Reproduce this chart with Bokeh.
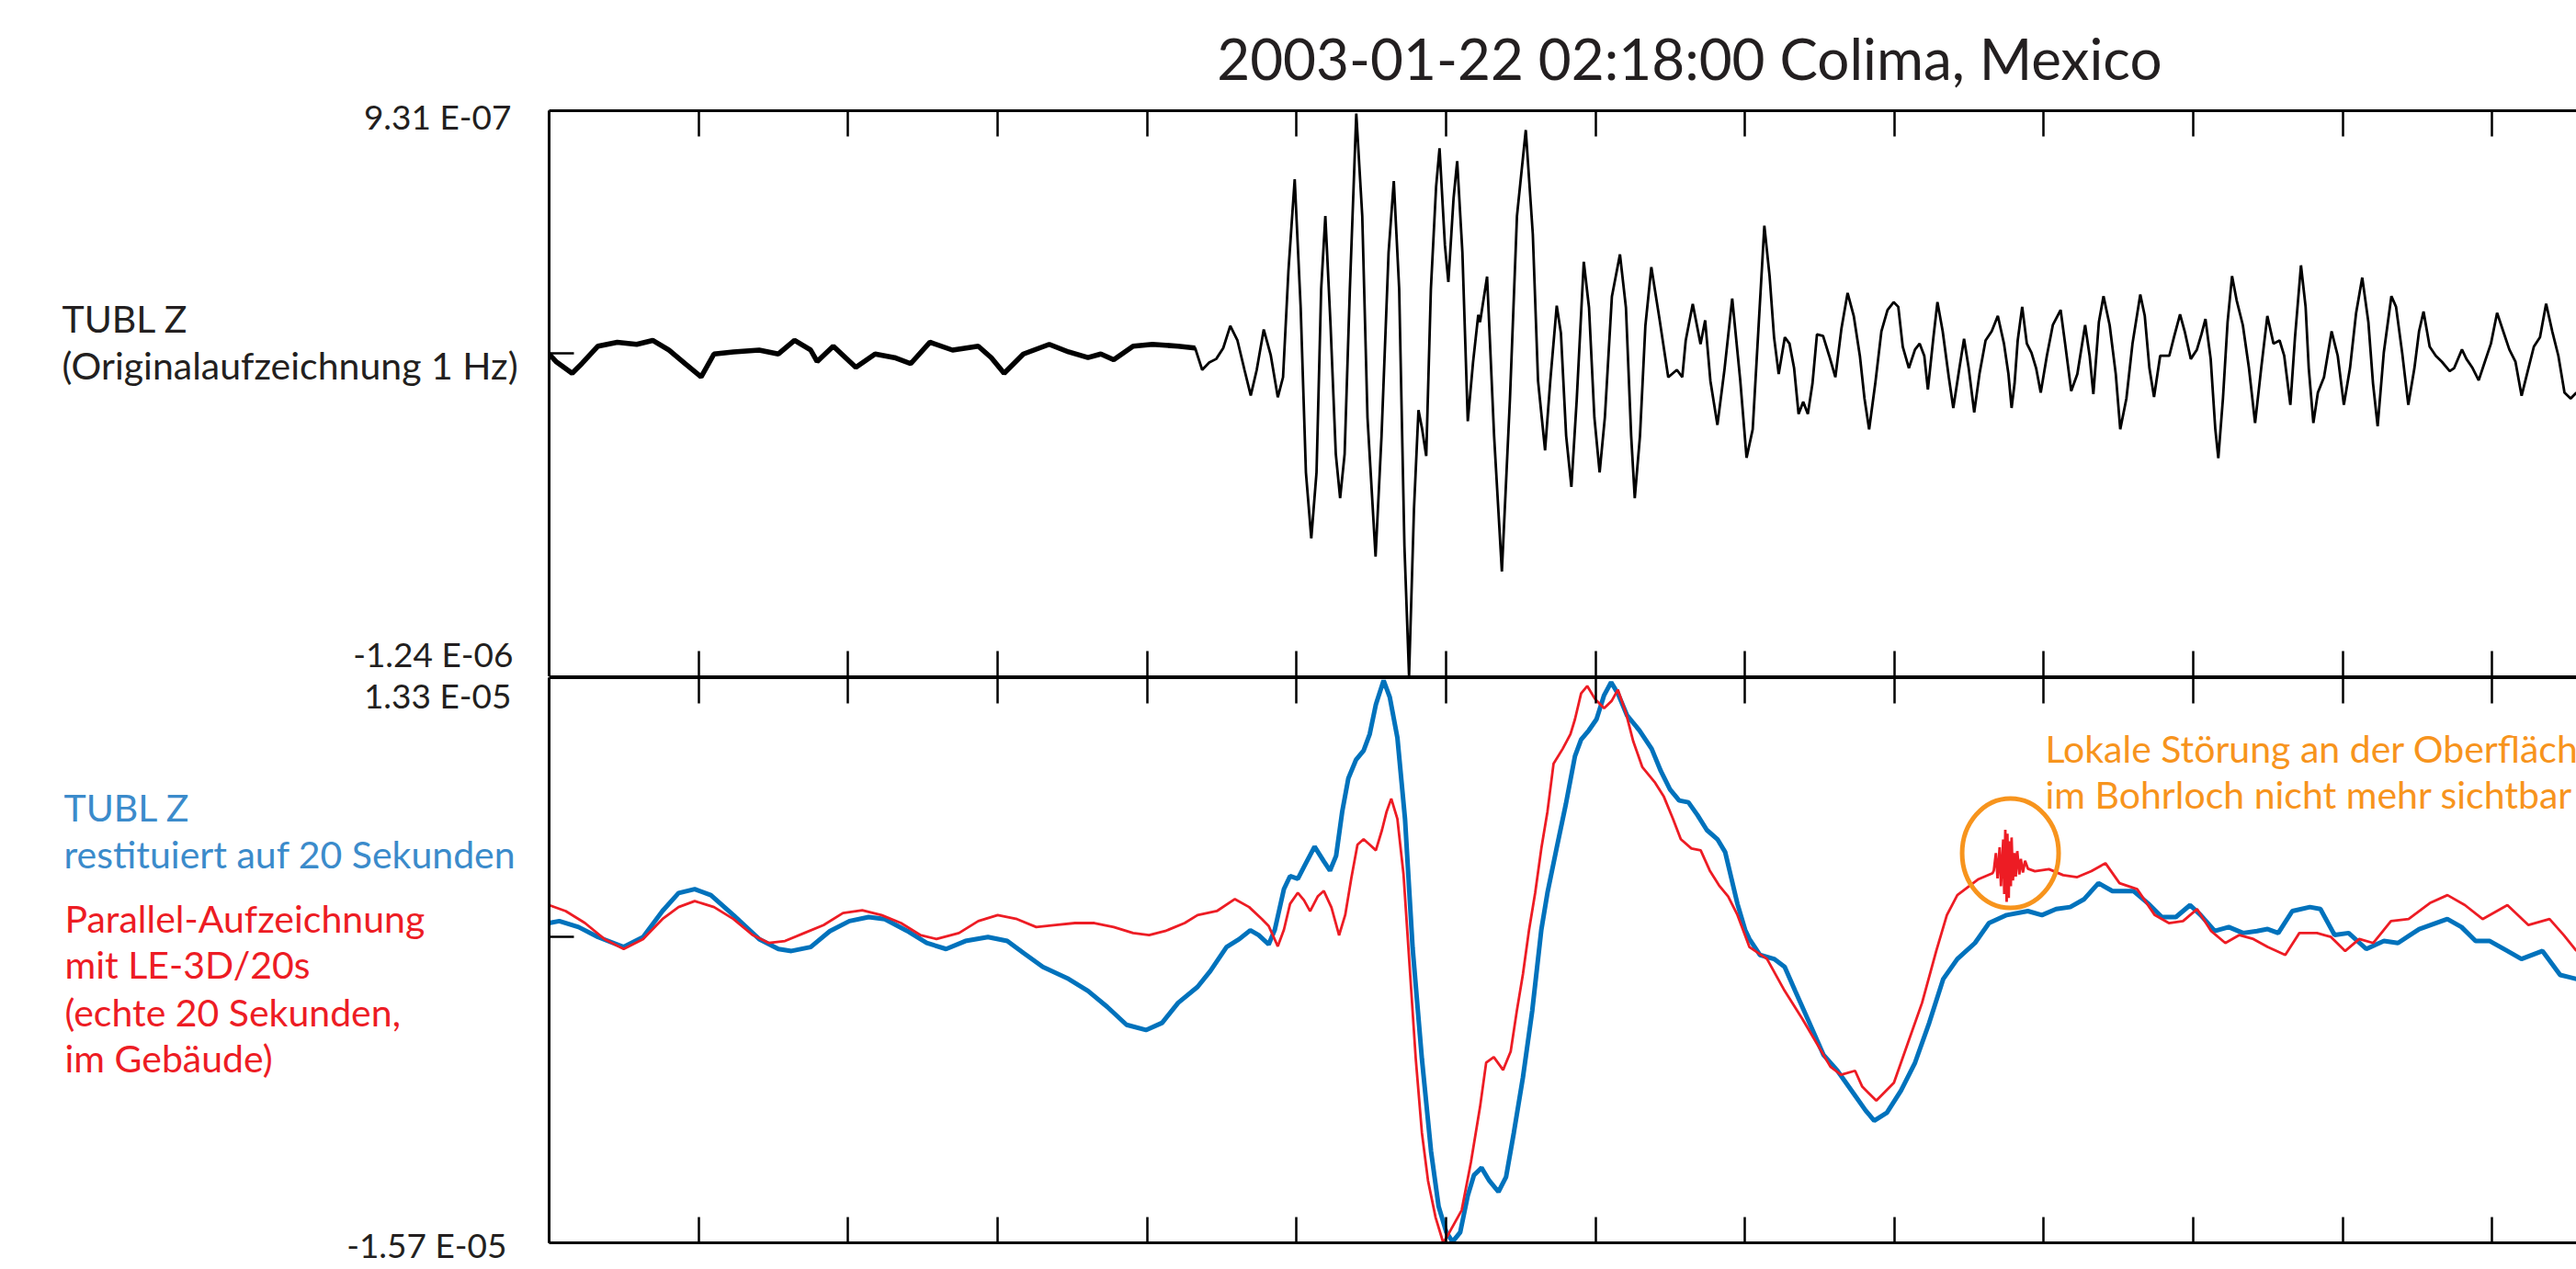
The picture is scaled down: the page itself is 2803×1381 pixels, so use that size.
from bokeh.plotting import figure
from bokeh.models import Range1d, LinearAxis, SingleIntervalTicker, FixedTicker, Label, ColumnDataSource
from bokeh.layouts import column, row
from bokeh.embed import file_html
from bokeh.resources import INLINE
from bokeh.core.properties import value

# ---------------- data (time in s, velocity in nm/s) ----------------
# TUBL Z original 1 Hz recording (upper panel)
black_t = [0.0, 4.6, 15.4, 21.9, 32.7, 45.6, 58.6, 69.3, 80.1, 90.9, 101.7, 110.3, 123.3, 140.5, 153.4,
           164.2, 175.0, 179.3, 190.1, 205.2, 218.1, 231.1, 241.9, 254.8, 269.9, 287.1, 295.8, 304.4,
           317.3, 334.6, 347.5, 360.5, 369.1, 377.7, 390.7, 403.6, 420.8,
           432.2, 436.9, 441.6, 446.3, 451.0, 455.7, 460.5, 465.2, 469.4, 473.4, 478.1, 482.8, 487.5,
           491.0, 494.6, 498.8, 502.8, 506.3, 509.9, 513.4, 516.5, 519.3, 522.8, 526.3, 529.2, 532.2,
           535.7, 540.0, 544.0, 547.5, 552.9, 556.9, 561.6, 565.1, 568.7, 572.2, 575.3, 578.6, 581.6,
           584.0, 586.8, 589.9, 593.4, 595.7, 599.3, 601.6, 605.1, 607.5, 611.0, 614.6, 618.1, 621.6,
           622.8, 627.5, 632.2, 637.4, 642.8, 647.5, 653.4, 658.1, 661.6, 666.3, 669.8, 674.1, 676.9,
           680.4, 683.9, 687.5, 692.2, 695.7, 699.3, 702.8, 706.3, 711.0, 716.4, 720.4, 723.9, 726.3,
           729.8, 733.4, 737.4, 742.8, 748.7, 754.5, 758.1, 760.4, 765.1, 770.3, 773.4, 776.9, 781.6,
           786.3, 791.5, 796.9, 801.1,
           805.2, 809.3, 813.0, 816.5, 819.5, 822.6, 826.7, 829.8, 832.9, 835.9, 839.0, 842.1, 845.2,
           848.2, 852.3, 856.4, 860.5, 864.6, 868.7, 872.8, 876.9, 880.0, 883.1, 887.2, 891.3, 895.4,
           899.5, 902.6, 905.6, 909.7, 913.8, 916.9, 920.0, 922.4, 926.1, 928.8, 932.3, 936.4, 939.4,
           943.5, 946.6, 949.7, 953.4, 956.9, 961.0, 965.1, 969.2, 973.3, 976.3, 978.4, 980.4, 982.5,
           985.5, 988.6, 991.7, 994.8, 997.9, 1002.0, 1006.0, 1011.2, 1014.2, 1018.3, 1022.4, 1027.6,
           1030.6, 1033.1, 1036.8, 1039.9, 1044.0, 1048.1, 1051.1, 1055.2, 1059.3, 1064.5, 1067.5,
           1070.6, 1073.7, 1077.8,
           1083.9, 1087.0, 1091.1, 1094.2, 1098.3, 1102.4, 1105.4, 1108.1, 1111.6, 1114.7, 1116.7,
           1119.8, 1122.9, 1125.9, 1129.0, 1133.1, 1137.2, 1141.3, 1145.4, 1149.5, 1153.6, 1157.7,
           1160.8, 1164.9, 1168.0, 1172.0, 1175.1, 1177.2, 1180.3, 1183.3, 1187.4, 1192.5, 1196.6,
           1200.7, 1204.8, 1208.9, 1213.0, 1217.1, 1220.2, 1223.3, 1227.4, 1232.5, 1235.6, 1239.7,
           1243.8, 1247.9, 1251.0, 1254.0, 1258.1, 1262.2, 1266.3, 1271.5, 1274.5, 1279.7, 1282.7,
           1286.8, 1290.9, 1295.0, 1299.1, 1303.2, 1307.3, 1311.4, 1315.5, 1319.6, 1323.7, 1327.8,
           1331.9, 1336.0, 1340.1, 1344.2, 1348.3, 1352.4, 1356.3]
black_v = [-2, -31, -76, -39, 28, 43, 35, 50, 13, -39, -90, -2, 6, 13, -2,
           50, 13, -31, 28, -53, -2, -16, -39, 43, 13, 28, -16, -76,
           -2, 35, 6, -16, -2, -24, 28, 35, 28,
           21, -63, -35, -21, 21, 106, 50, -63, -161, -63, 92, -7, -168,
           -91, 316, 668, 176, -456, -709, -456, 246, 527, 106, -386, -555, -386,
           246, 920, 527, -246, -779, -316, 387, 661, 246, -737, -1236, -597, -217,
           -288, -393, 246, 640, 787, 415, 274, 597, 738, 387, -260, -35, 148,
           120, 295, -316, -836, -175, 527, 857, 457, -105, -372, -105, 183, 78,
           -316, -512, -175, 352, 176, -246, -456, -246, 218, 380, 176, -316, -555,
           -316, 106, 331, 134, -91, -63, -91, 50, 190, 36, 127, -105, -274,
           -63, 211, -105, -400,
           -291, 120, 490, 297, 62, -79, 62, 38, -56, -232, -185, -232, -115,
           73, 67, -9, -91, 97, 232, 144, -9, -173, -291, -115, 85, 167,
           197, 179, 26, -56, 15, 38, -9, -138, 62, 197, 85, -91, -209,
           -56, 56, -56, -226, -79, 50, 85, 144, 38, -79, -209, -115, 50,
           179, 38, 3, -56, -150, -9, 109, 167, 38, -144, -79, 109,
           -9, -156, 120, 220, 109, -79, -291, -173, 38, 226, 144,
           -56, -167, -9,
           -9, 62, 150, 85, -21, 15, 73, 132, -21, -291, -402,
           -173, 120, 297, 203, 109, -56, -267, -56, 144, 38, 50,
           -9, -197, 62, 338, 179, -56, -267, -150, -91, 85, -9,
           -197, -56, 156, 291, 120, -115, -279, 3, 220, 179, 3,
           -197, -56, 85, 161, 26, -9, -32, -68, -56, 15, -21,
           -56, -103, -32, 38, 156, 85, 15, -32, -162, -68, 26,
           62, 191, 85, -9, -150, -173, -150]
black_pre_n = 37  # samples before the wave onset (noisy section)

# TUBL Z restituted to 20 s (lower panel, blue)
blue_t = [0.0, 6.8, 19.7, 32.7, 49.9, 62.9, 75.8, 86.6, 97.4, 108.2, 123.3, 140.5, 153.4, 162.1, 175.0,
          187.9, 200.9, 213.8, 224.6, 239.7, 252.6, 265.6, 278.5, 293.6, 306.5, 317.3, 330.3, 347.5,
          360.5, 373.4, 386.3, 399.3, 410.1, 420.8, 433.8, 442.4, 453.2, 461.8, 469.1, 474.7,
          481.4, 485.5, 491.6, 495.7, 500.9, 505.0, 512.1, 518.3, 522.4, 526.5, 530.6, 534.7, 539.8,
          544.9, 549.0, 553.1, 558.3, 562.4, 567.5, 572.6, 577.7, 583.9, 590.0, 595.1, 600.3, 604.4,
          609.5, 614.6, 618.7, 623.8, 629.0, 635.1, 640.2, 645.4, 651.5, 657.7, 663.8, 667.9, 674.0,
          680.2, 686.3, 690.4, 695.6, 700.7, 705.8, 710.5, 715.0, 721.2, 729.4, 737.6, 743.7, 749.9,
          756.0, 762.2, 768.3, 774.5, 781.6, 786.8, 790.9, 795.0, 800.1,
          803.0, 810.1, 819.5, 826.6, 833.6, 843.1, 852.5, 861.9, 871.4, 880.8, 886.5, 895.0, 904.4,
          913.8, 923.3, 932.7, 942.1, 953.9, 963.3, 975.1, 989.3, 998.7, 1008.2, 1017.6, 1027.0,
          1036.5, 1045.9, 1060.1, 1069.5, 1078.9, 1088.3, 1097.8, 1104.9, 1114.3, 1123.7, 1133.2,
          1142.6, 1149.7, 1156.8, 1166.2, 1178.0, 1185.0, 1194.5, 1203.9, 1215.7, 1227.5, 1236.9,
          1251.1, 1269.9, 1279.4, 1288.8, 1298.3, 1310.1, 1319.5, 1333.6, 1345.4, 1356.3]
blue_v = [709, 811, 504, -8, -520, -8, 1323, 2245, 2450, 2142, 1118, -111, -623, -725, -520,
          299, 811, 1016, 914, 299, -315, -623, -213, -8, -213, -827, -1544, -2159,
          -2773, -3592, -4514, -4780, -4411, -3387, -2568, -1749, -520, -111, 340, 94,
          -389, 369, 2453, 3116, 2983, 3589, 4631, 3873, 3400, 4158, 6431, 8136, 9083,
          9557, 10409, 11925, 13157, 12304, 10220, 6052, -579, -6262, -10998, -13840, -15166, -15650,
          -15166, -13272, -12230, -11851, -12514, -13082, -12325, -10051, -7209, -3799, 369, 2263, 4537,
          6810, 9273, 10125, 10599, 11167, 12399, 13062, 12493, 11357, 10599, 9652, 8515, 7568,
          6999, 6905, 6242, 5484, 5010, 4347, 3021, 1695, 369,
          -111, -930, -1135, -1544, -2773, -4411, -6050, -6869, -7893, -8917, -9429, -9019, -7893,
          -6459, -4411, -2159, -1135, -315, 709, 1118, 1323, 1118, 1426, 1528, 1938,
          2757, 2347, 2347, 1733, 1016, 1016, 1630, 1118, 299, 504, 197,
          299, 401, 197, 1323, 1528, 1426, 94, 197, -623, -213, -315,
          401, 914, 504, -213, -213, -725, -1135, -725, -1954, -2159]

# Parallel recording LE-3D/20s (lower panel, red)
red_t = [0.0, 11.1, 24.0, 37.0, 49.9, 62.9, 75.8, 86.6, 97.4, 110.3, 123.3, 136.2, 147.0, 157.8, 170.7,
         183.6, 196.6, 209.5, 222.4, 235.4, 248.3, 259.1, 274.2, 287.1, 300.1, 313.0, 325.9, 338.9,
         351.8, 364.8, 377.7, 390.7, 401.4, 412.2, 425.2, 433.8, 446.7, 458.8, 468.3, 476.9,
         481.4, 487.5, 491.6, 495.7, 500.9, 505.0, 509.1, 514.2, 518.3, 523.4, 528.5, 532.6, 536.7,
         540.8, 544.9, 549.0, 553.1, 557.2, 560.3, 563.4, 567.5, 571.6, 575.7, 579.8, 583.9, 588.0,
         593.1, 598.2, 602.3, 606.4, 610.5, 616.7, 622.8, 626.9, 632.0, 638.2, 643.3, 647.4, 651.5,
         655.6, 659.7, 663.8, 667.9, 672.0, 678.1, 683.3, 686.3, 690.4, 694.5, 699.7, 705.8, 710.9,
         715.0, 720.2, 725.3, 731.4, 739.6, 745.8, 751.9, 757.1, 764.2, 770.4, 776.5, 782.7, 788.8,
         795.0,
         803.0, 814.8, 826.6, 838.4, 847.8, 857.2, 864.3, 873.7, 878.5, 887.9, 899.7, 909.1, 918.5,
         928.0, 935.1, 942.1, 949.2, 956.3, 965.7, 966.5, 967.9, 969.0, 970.4, 971.3, 972.8, 973.5,
         974.2, 975.1, 975.6, 976.5, 977.0, 977.9, 978.4, 979.3, 980.3, 981.2, 982.2, 983.6, 984.6,
         986.0, 987.4, 989.3, 994.0, 1003.4, 1012.9, 1022.3, 1031.8, 1041.2, 1050.6, 1062.4, 1074.2,
         1083.6, 1093.1, 1102.5, 1111.9, 1121.4, 1130.8, 1140.2, 1149.7, 1161.5, 1170.9, 1182.7,
         1192.1, 1201.6, 1211.0, 1220.4, 1232.2, 1244.0, 1258.2, 1270.0, 1281.7, 1293.5, 1310.1,
         1324.2, 1338.3, 1347.8, 1356.3]
red_v = [1630, 1323, 709, -111, -623, -111, 914, 1528, 1835, 1528, 914, 94, -315, -213, 197,
         606, 1221, 1364, 1118, 709, 94, -111, 197, 811, 1118, 914, 504, 606,
         709, 709, 504, 197, 94, 299, 709, 1118, 1323, 1938, 1528, 914,
         558, -484, 369, 1695, 2263, 1884, 1316, 2074, 2358, 1505, 84, 1126, 3021,
         4726, 5010, 4726, 4442, 5484, 6431, 7094, 6052, 3210, -1526, -6262, -10051, -12514,
         -14409, -15700, -15166, -14598, -14030, -11567, -8725, -6452, -6167, -6831, -5883, -3799, -1905,
         369, 2263, 4537, 6431, 8894, 9652, 10409, 11167, 12493, 12872, 12209, 11736, 12115,
         12683, 11546, 10031, 8704, 7947, 7189, 6052, 5010, 4537, 4442, 3400, 2642, 2074,
         1126,
         -520, -1135, -2773, -4207, -5435, -6664, -7074, -6869, -7688, -8405, -7483, -5435, -3387,
         -725, 1118, 2142, 2552, 2962, 3269, 3400, 4300, 3000, 4600, 2600, 5000, 2200,
         5500, 1800, 5300, 2000, 4900, 2600, 5100, 2900, 4300, 3100, 4400, 3200, 4000,
         3300, 3900, 3500, 3371, 3474, 3166, 3064, 3371, 3781, 2757, 2450, 1118,
         709, 811, 1426, 299, -315, 94, -111, -520, -930, 197, 197,
         -8, -725, -111, -315, 811, 914, 1733, 2142, 1630, 914, 1630,
         606, 914, 94, -725]

# axis end values (nm/s) and their printed labels
upper_max, upper_min = 931, -1240
lower_max, lower_min = 13300, -15700
upper_labels = ["9.31 E-07", "-1.24 E-06"]
lower_labels = ["1.33 E-05", "-1.57 E-05"]
t_end = 1356.3
tick_interval = 100

# annotation: local disturbance (time, value)
dist_t, dist_v = 977.6, 4294

FONT = "Lato"
BLACK = "#231F20"
BLUE_LINE = "#0072BC"
BLUE_TEXT = "#3B8BCB"
RED = "#ED1C24"
ORANGE = "#F7941D"

W_TOTAL = 2803
LEFT_W = 595
TITLE_H, H1, H2 = 118, 618, 641
PLOT_W = W_TOTAL - LEFT_W


def make_fig(height, top, bottom, ymin, ymax):
    p = figure(width=PLOT_W, height=height, x_range=Range1d(0, t_end), y_range=Range1d(ymin, ymax),
               output_backend="svg", toolbar_location=None, x_axis_location=None, y_axis_location=None,
               min_border_left=2, min_border_right=0, min_border_top=top, min_border_bottom=bottom,
               outline_line_color=None, background_fill_color="white", border_fill_color="white")
    p.xgrid.grid_line_color = None
    p.ygrid.grid_line_color = None
    for side in ("above", "below"):
        ax = LinearAxis(ticker=SingleIntervalTicker(interval=tick_interval, num_minor_ticks=0))
        ax.axis_line_width = 3
        ax.axis_line_color = "black"
        ax.major_tick_in = 28
        ax.major_tick_out = 0
        ax.major_tick_line_width = 2.5
        ax.major_tick_line_color = "black"
        ax.minor_tick_line_color = None
        ax.major_label_text_font_size = "0px"
        ax.major_label_standoff = 0
        p.add_layout(ax, side)
    ya = LinearAxis(ticker=FixedTicker(ticks=[0]))
    ya.axis_line_width = 3
    ya.axis_line_color = "black"
    ya.major_tick_in = 27
    ya.major_tick_out = 0
    ya.major_tick_line_width = 2.5
    ya.minor_tick_line_color = None
    ya.major_label_text_font_size = "0px"
    ya.major_label_standoff = 0
    p.add_layout(ya, "left")
    return p


def text_fig(width, height):
    # plain text panel whose data units are pixels (y grows downward)
    p = figure(width=width, height=height, x_range=Range1d(0, width), y_range=Range1d(height, 0),
               output_backend="svg", toolbar_location=None, x_axis_location=None, y_axis_location=None,
               min_border=0, outline_line_color=None, background_fill_color="white",
               border_fill_color="white")
    p.grid.visible = False
    return p


def put(p, xs, ys, texts, size, color, align="left"):
    p.text(x=xs, y=ys, text=texts, text_font=value(FONT), text_font_size=value(size),
           text_color=color, text_align=align, text_baseline="alphabetic")


# ---------------- title strip (above the plot panels) ----------------
title_fig = text_fig(PLOT_W, TITLE_H)
put(title_fig, [1837 - LEFT_W], [62], ["2003-01-22 02:18:00 Colima, Mexico"], "62px", BLACK, align="center")

# ---------------- upper panel ----------------
p1 = make_fig(H1, 2, 0, upper_min, upper_max)
src_b = ColumnDataSource(dict(t=black_t, v=black_v))
src_bpre = ColumnDataSource(dict(t=black_t[:black_pre_n + 1], v=black_v[:black_pre_n + 1]))
p1.line("t", "v", source=src_bpre, line_color="black", line_width=5.5)
p1.line("t", "v", source=src_b, line_color="black", line_width=2.8)

# ---------------- lower panel ----------------
p2 = make_fig(H2, 1, 25, lower_min, lower_max)
p2.line(blue_t, blue_v, line_color=BLUE_LINE, line_width=5)
p2.line(red_t, red_v, line_color=RED, line_width=2.8)
p2.ellipse(x=[dist_t], y=[dist_v], width=105, height=119, width_units="screen", height_units="screen",
           fill_color=None, line_color=ORANGE, line_width=5)
for yy, txt in zip([9669, 7311], ["Lokale Störung an der Oberfläche", "im Bohrloch nicht mehr sichtbar"]):
    p2.add_layout(Label(x=1000.9, y=yy, text=txt, text_font=FONT, text_font_size="41px",
                        text_color=ORANGE, text_align="left", text_baseline="alphabetic"))

# ---------------- left text column (page pixel coordinates) ----------------
left_fig = text_fig(LEFT_W, TITLE_H + H1 + H2)
put(left_fig, [556, 558, 556, 551], [126, 711, 756, 1354],
    [upper_labels[0], upper_labels[1], lower_labels[0], lower_labels[1]], "37px", BLACK, align="right")
put(left_fig, [67, 67], [346, 397], ["TUBL Z", "(Originalaufzeichnung 1 Hz)"], "41px", BLACK)
put(left_fig, [69, 69], [878, 929], ["TUBL Z", "restituiert auf 20 Sekunden"], "41px", BLUE_TEXT)
put(left_fig, [70, 70, 70, 70], [999, 1049, 1101, 1151],
    ["Parallel-Aufzeichnung", "mit LE-3D/20s", "(echte 20 Sekunden,", "im Gebäude)"], "41px", RED)

layout = row(left_fig, column(title_fig, p1, p2))
open("out.html", "w").write(file_html(layout, INLINE))
